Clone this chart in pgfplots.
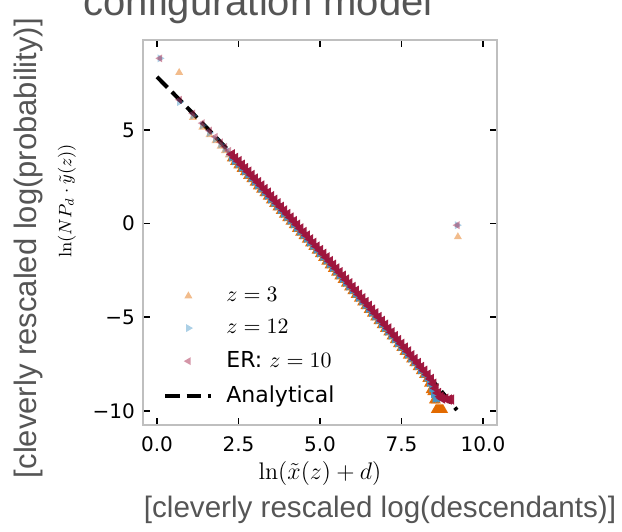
\documentclass[border=0pt]{standalone}
\usepackage{pgfplots}
\pgfplotsset{compat=1.18}
\usepackage{pgfplotstable}
\usepackage[no-math]{fontspec}
\setmainfont{DejaVu Sans}
\newfontfamily\arialfont{Liberation Sans}
\definecolor{cOr}{HTML}{E26A00}
\definecolor{cBl}{HTML}{4696C8}
\definecolor{cRd}{HTML}{A0143C}
\definecolor{cGr}{HTML}{555555}
\pgfplotsset{
  markleg/.style={legend image code/.code={\path[draw=none] (0pt,0pt) -- (23pt,0pt); \draw[##1, only marks] plot coordinates {(11.5pt,0pt)};}},
  lineleg/.style={legend image code/.code={\draw[##1] (0pt,0pt) -- (23pt,0pt);}},
  faint/.style 2 args={only marks, mark=triangle*, mark size=2.3pt, color=#1,
     mark options={rotate=#2, draw opacity=0, fill=#1, fill opacity=0.45}},
  dense/.style 2 args={only marks, mark=triangle*, mark size=3pt, color=#1,
     mark options={rotate=#2, draw opacity=0, fill=#1, fill opacity=0.97}},
}

\pgfplotstableread{
x yr yb yo
0.69 6.61 6.49 6.39
1.10 5.88 5.76 5.66
1.39 5.36 5.24 5.14
1.61 4.96 4.84 4.74
1.79 4.63 4.51 4.41
1.95 4.34 4.22 4.12
2.08 4.10 3.98 3.88
2.20 3.88 3.76 3.66
}\smallpts

\pgfplotstableread{
x yr yb yo
2.30 3.70 3.58 3.48
2.40 3.51 3.39 3.29
2.50 3.33 3.21 3.11
2.60 3.14 3.02 2.92
2.70 2.96 2.84 2.74
2.80 2.77 2.65 2.55
2.90 2.59 2.47 2.37
3.00 2.40 2.28 2.18
3.10 2.21 2.09 1.99
3.20 2.03 1.91 1.81
3.30 1.84 1.72 1.62
3.40 1.65 1.53 1.43
3.50 1.46 1.34 1.24
3.60 1.27 1.15 1.05
3.70 1.08 0.96 0.86
3.80 0.89 0.77 0.67
3.90 0.70 0.58 0.48
4.00 0.51 0.39 0.29
4.10 0.32 0.20 0.10
4.20 0.13 0.01 -0.09
4.30 -0.06 -0.18 -0.28
4.40 -0.26 -0.38 -0.48
4.50 -0.45 -0.57 -0.67
4.60 -0.64 -0.76 -0.86
4.70 -0.84 -0.96 -1.06
4.80 -1.03 -1.15 -1.25
4.90 -1.23 -1.35 -1.45
5.00 -1.42 -1.54 -1.64
5.10 -1.62 -1.74 -1.84
5.20 -1.81 -1.93 -2.03
5.30 -2.01 -2.13 -2.23
5.40 -2.20 -2.32 -2.42
5.50 -2.40 -2.52 -2.62
5.60 -2.60 -2.72 -2.82
5.70 -2.79 -2.91 -3.01
5.80 -2.99 -3.11 -3.21
5.90 -3.19 -3.31 -3.41
6.00 -3.39 -3.51 -3.61
6.10 -3.59 -3.71 -3.81
6.20 -3.79 -3.91 -4.01
6.30 -3.99 -4.11 -4.21
6.40 -4.19 -4.31 -4.41
6.50 -4.39 -4.51 -4.61
6.60 -4.59 -4.71 -4.81
6.70 -4.79 -4.91 -5.01
6.80 -4.99 -5.11 -5.21
6.90 -5.20 -5.32 -5.42
7.00 -5.40 -5.52 -5.62
7.10 -5.60 -5.72 -5.82
7.20 -5.81 -5.93 -6.03
7.30 -6.01 -6.13 -6.23
7.40 -6.22 -6.34 -6.44
7.50 -6.42 -6.54 -6.64
7.60 -6.63 -6.75 -6.85
7.70 -6.83 -6.95 -7.05
7.80 -7.04 -7.16 -7.26
7.90 -7.24 -7.36 -7.46
8.00 -7.45 -7.57 -7.67
8.10 -7.66 -7.78 -7.88
8.20 -7.86 -7.98 -8.08
8.30 -8.07 -8.19 -8.29
}\band

\begin{document}
\begin{tikzpicture}
\useasboundingbox (-71.5pt,-53pt) rectangle (239.5pt,212.5pt);
\begin{axis}[
  at={(0pt,0pt)}, anchor=south west,
  scale only axis, width=177pt, height=192.5pt,
  xmin=-0.43, xmax=10.43, ymin=-10.76, ymax=9.8,
  xtick={0,2.5,5,7.5,10},
  xticklabels={0.0,2.5,5.0,7.5,10.0},
  ytick={-10,-5,0,5},
  yticklabels={−10,−5,0,5},
  /pgf/number format/assume math mode=true,
  tick align=inside,
  xtick pos=both, ytick pos=both,
  xticklabel pos=lower, yticklabel pos=left,
  major tick length=3.5pt,
  major tick style={black, line width=0.8pt},
  axis line style={draw=black!25, line width=0.8pt},
  ticklabel style={font=\fontsize{10}{12}\selectfont},
  yticklabel style={xshift=-0.6pt},
  xticklabel style={yshift=-2.5pt},
  xlabel={$\ln(\tilde{x}(z)+d)$},
  ylabel={$\ln(NP_d\cdot\tilde{y}(z))$},
  every axis x label/.style={at={(rel axis cs:0.5,0)}, anchor=center, yshift=-24pt, font=\fontsize{13}{15}\selectfont},
  every axis y label/.style={at={(rel axis cs:0,0.582)}, anchor=center, xshift=-38pt, rotate=90, font=\fontsize{9}{11}\selectfont},
  legend style={draw=none, fill=none, at={(rel axis cs:0.0565,0.361)}, anchor=north west,
    font=\fontsize{11}{13}\selectfont, row sep=6.5pt, column sep=6pt, inner sep=0pt,
    nodes={inner sep=0.5pt}},
  legend cell align=left,
]
% faint individual points (small x and outliers) -- carry the legend
\addplot[faint={cOr}{0}, markleg] coordinates {(0.68,8.06) (9.23,-0.71) (1.10,5.66) (1.39,5.14) (1.61,4.74) (1.79,4.41) (1.95,4.12) (2.08,3.88) (2.20,3.66)};
\addlegendentry{$z=3$}
\addplot[faint={cBl}{-90}, markleg] coordinates {(0.09,8.82) (9.21,-0.09) (0.69,6.49) (1.10,5.76) (1.39,5.24) (1.61,4.84) (1.79,4.51) (1.95,4.22) (2.08,3.98) (2.20,3.76)};
\addlegendentry{$z=12$}
\addplot[faint={cRd}{90}, markleg] table[x=x, y=yr] \smallpts;
\addlegendentry{ER: $z=10$}
\addplot[forget plot, faint={cRd}{90}] coordinates {(0.09,8.82) (9.21,-0.09)};
% dense band
\addplot[forget plot, dense={cOr}{0}] table[x=x, y=yo] \band;
\addplot[forget plot, dense={cOr}{0}] coordinates {
   (8.35,-8.55) (8.40,-8.90) (8.45,-9.00) (8.50,-9.45) (8.55,-9.45)
   (8.56,-9.95) (8.59,-9.95) (8.62,-9.95) (8.65,-9.95) (8.68,-9.95) (8.71,-9.95) (8.74,-9.95) (8.77,-9.95)};
\addplot[forget plot, dense={cBl}{-90}] table[x=x, y=yb] \band;
\addplot[forget plot, dense={cBl}{-90}] coordinates {
   (8.38,-8.45) (8.45,-8.75) (8.50,-9.05) (8.55,-9.30) (8.62,-9.30) (8.70,-9.30)};
\addplot[forget plot, dense={cRd}{90}] table[x=x, y=yr] \band;
\addplot[forget plot, dense={cRd}{90}] coordinates {
   (8.40,-8.30) (8.48,-8.55) (8.55,-8.80) (8.62,-9.05) (8.70,-9.25) (8.75,-9.35) (8.85,-9.35) (8.95,-9.40) (9.02,-9.40)};
% analytical
\addplot[black, line width=2pt, dash pattern=on 7.4pt off 3.2pt, lineleg]
  coordinates {(0,7.83) (0.5,6.95) (1,6.06) (1.5,5.16) (2,4.25) (2.5,3.33) (3,2.40) (3.5,1.46) (4,0.51) (4.5,-0.45) (5,-1.42) (5.5,-2.40) (6,-3.39) (6.5,-4.39) (7,-5.40) (7.5,-6.42) (8,-7.45) (8.5,-8.49) (9,-9.54) (9.2,-9.96)};
\addlegendentry{Analytical}
\end{axis}
\node[anchor=base, text=cGr, font=\arialfont\fontsize{20}{24}\selectfont] at (57.5pt,204.5pt) {configuration model};
\node[anchor=center, rotate=90, text=cGr, font=\arialfont\fontsize{15.5}{18}\selectfont] at (-57.5pt,88.5pt) {[cleverly rescaled log(probability)]};
\node[anchor=base, text=cGr, font=\arialfont\fontsize{14.8}{18}\selectfont] at (118.5pt,-46pt) {[cleverly rescaled log(descendants)]};
\end{tikzpicture}
\end{document}
